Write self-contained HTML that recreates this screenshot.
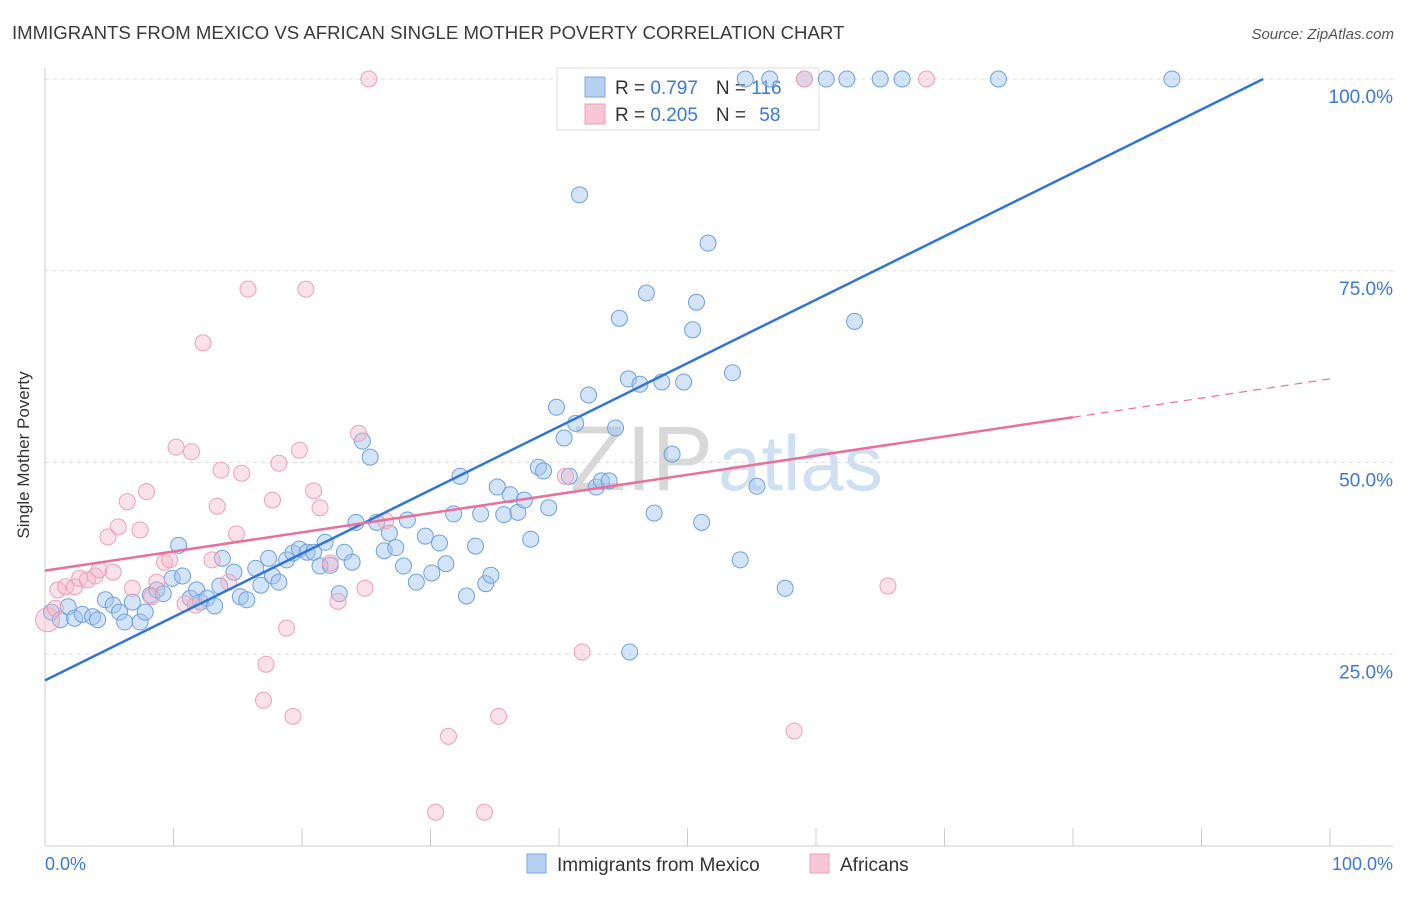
<!DOCTYPE html>
<html><head><meta charset="utf-8"><style>
body{margin:0;background:#fff;font-family:"Liberation Sans",sans-serif}
svg text{font-family:"Liberation Sans",sans-serif}
</style></head><body>
<svg id="c" width="1406" height="892" xmlns="http://www.w3.org/2000/svg">
<text x="12" y="39" font-size="18.6" fill="#3a3a3a">IMMIGRANTS FROM MEXICO VS AFRICAN SINGLE MOTHER POVERTY CORRELATION CHART</text>
<text x="1394" y="39" font-size="15" fill="#555" font-style="italic" text-anchor="end">Source: ZipAtlas.com</text>
<g><text x="570" y="490" font-size="92" fill="#d8d8d8" font-family="Liberation Serif">ZIP</text><text x="718" y="490" font-size="78" fill="#cfe0f3">atlas</text></g>
<g id="grid"></g><g id="axes"></g>
<g>
<rect x="557" y="68" width="262" height="62" fill="#fff" stroke="#ddd"/>
<rect x="585" y="77" width="20" height="20" fill="#b7d0f2" stroke="#7aa6dd"/>
<rect x="585" y="104" width="20" height="20" fill="#f8c6d5" stroke="#eea0b8"/>
<text x="615" y="94" font-size="19" fill="#333">R = <tspan fill="#3c78d8">0.797</tspan><tspan dx="18">N = </tspan><tspan fill="#3c78d8">116</tspan></text>
<text x="615" y="121" font-size="19" fill="#333">R = <tspan fill="#3c78d8">0.205</tspan><tspan dx="18">N = </tspan><tspan dx="8" fill="#3c78d8">58</tspan></text>
</g>
<g id="marks"></g><g id="lines"></g>
<text x="29" y="455" font-size="17" fill="#333" text-anchor="middle" transform="rotate(-90 29 455)">Single Mother Poverty</text>
<text x="45" y="870" font-size="18" fill="#3c78d8">0.0%</text>
<text x="1393" y="870" font-size="18" fill="#3c78d8" text-anchor="end">100.0%</text>
<g>
<rect x="527" y="854" width="19" height="19" fill="#b7d0f2" stroke="#7aa6dd"/>
<text x="557" y="871" font-size="19" fill="#333">Immigrants from Mexico</text>
<rect x="810" y="854" width="19" height="19" fill="#f8c6d5" stroke="#eea0b8"/>
<text x="840" y="871" font-size="19" fill="#333">Africans</text>
</g>
</svg>
<script>
const yTicks=[25,50,75,100];
const yTickLabels=["25.0%","50.0%","75.0%","100.0%"];
const xTicks=[0,10,20,30,40,50,60,70,80,90,100];
const blueX=[0.5,1.2,1.8,2.3,2.9,3.7,4.1,4.7,5.3,5.8,6.2,6.8,7.4,7.8,8.2,8.7,9.2,9.9,10.4,10.7,11.3,11.8,12.1,12.6,13.2,13.6,13.8,14.7,15.2,15.7,16.4,16.8,17.4,17.7,18.2,18.8,19.3,19.8,20.4,20.9,21.4,21.8,22.2,22.9,23.3,23.9,24.2,24.7,25.3,25.8,26.4,26.8,27.3,27.9,28.2,28.9,29.6,30.1,30.7,31.2,31.8,32.3,32.8,33.5,33.9,34.3,34.7,35.2,35.7,36.2,36.8,37.3,37.8,38.4,38.8,39.2,39.8,40.4,40.8,41.3,41.6,42.3,42.9,43.3,43.9,44.4,44.7,45.4,45.5,46.3,46.8,47.4,48.0,48.8,49.7,50.4,50.7,51.1,51.6,53.5,54.1,55.4,57.6,63.0,54.5,56.4,59.1,60.8,62.4,65.0,66.7,74.2,87.7];
const blueY=[30.5,29.5,31.2,29.7,30.2,29.9,29.5,32.1,31.4,30.5,29.2,31.8,29.2,30.5,32.7,33.4,32.9,34.9,39.2,35.2,32.3,33.4,31.8,32.3,31.3,33.9,37.5,35.7,32.5,32.1,36.2,34.0,37.5,35.2,34.4,37.3,38.2,38.7,38.3,38.3,36.5,39.6,36.6,32.9,38.3,37.0,42.2,52.8,50.7,42.2,38.5,40.8,38.9,36.5,42.5,34.4,40.4,35.6,39.5,36.8,43.3,48.2,32.6,39.1,43.3,34.2,35.3,46.8,43.2,45.8,43.5,45.1,40.0,49.4,48.9,44.1,57.2,53.2,48.2,55.1,84.9,58.8,46.8,47.6,47.6,54.5,68.8,60.9,25.3,60.2,72.1,43.4,60.5,51.1,60.5,67.3,70.9,42.2,78.6,61.7,37.3,46.9,33.6,68.4,100,100,100,100,100,100,100,100,100];
const pinkX=[0.2,0.8,1.0,1.6,2.3,2.7,3.3,3.9,4.2,4.9,5.3,5.7,6.4,6.8,7.4,7.9,8.3,8.7,9.3,9.7,10.2,10.9,11.4,11.7,12.3,13.0,13.4,13.7,14.3,14.9,15.3,15.8,17.2,17.0,17.7,18.2,18.8,19.3,19.8,20.3,20.9,21.4,22.2,22.8,24.4,24.9,25.2,26.5,30.4,31.4,34.2,35.3,40.5,41.8,58.3,59.1,65.6,68.6];
const pinkY=[29.5,31.0,33.4,33.8,33.8,34.9,34.7,35.2,36.0,40.3,35.7,41.6,44.9,33.6,41.2,46.2,32.5,34.4,37.0,37.3,52.0,31.6,51.4,31.4,65.6,37.3,44.3,49.0,34.4,40.7,48.6,72.6,23.7,19.0,45.1,49.9,28.4,16.9,51.6,72.6,46.3,44.1,36.9,31.9,53.8,33.6,100,42.4,4.4,14.3,4.4,16.9,48.2,25.3,15.0,100,33.9,100];
const blueFit=[21.6,0.827];
const pinkFit=[35.9,0.25];
const NS="http://www.w3.org/2000/svg";
const X=v=>45+v*12.85, Y=v=>846-v*7.67;
function mk(t,a,p){const e=document.createElementNS(NS,t);for(const k in a)e.setAttribute(k,a[k]);document.getElementById(p).appendChild(e);return e;}
yTicks.forEach((t,i)=>{
 const g=mk('line',{x1:45,x2:1393,y1:Y(t),y2:Y(t),stroke:'#ddd','stroke-dasharray':'4,4'},'grid');
 
 
 const tx=mk('text',{x:1393,y:Y(t)+24,'font-size':19,fill:'#3c78d8','text-anchor':'end'},'grid');
 tx.textContent=yTickLabels[i];
 
 
});
const ya=mk('line',{x1:45,x2:45,y1:68,y2:846,stroke:'#ccc'},'axes');


const xa=mk('line',{x1:45,x2:1393,y1:846,y2:846,stroke:'#ccc'},'axes');


xTicks.forEach(t=>{
 const l=mk('line',{x1:X(t),x2:X(t),y1:828,y2:846,stroke:'#ccc'},'axes');
 
 
});
blueX.forEach((x,i)=>{
 const c=mk('circle',{cx:X(x),cy:Y(blueY[i]),r:8,fill:'rgba(160,196,240,0.45)',stroke:'#6fa0dc','stroke-width':1},'marks');
 
 
});
pinkX.forEach((x,i)=>{
 const c=mk('circle',{cx:X(x),cy:Y(pinkY[i]),r:i==0?12:8,fill:'rgba(245,180,200,0.4)',stroke:'#eea0b8','stroke-width':1},'marks');
 
 
});
const bx2=(100-blueFit[0])/blueFit[1];
const bl=mk('line',{x1:X(0),y1:Y(blueFit[0]),x2:X(bx2),y2:Y(100),stroke:'#2f74d8','stroke-width':2.5},'lines');


const pl=mk('line',{x1:X(0),y1:Y(pinkFit[0]),x2:X(80),y2:Y(pinkFit[0]+pinkFit[1]*80),stroke:'#e8709a','stroke-width':2.5},'lines');


const pd=mk('line',{x1:X(80),y1:Y(pinkFit[0]+pinkFit[1]*80),x2:X(100),y2:Y(pinkFit[0]+pinkFit[1]*100),stroke:'#e8709a','stroke-width':1.2,'stroke-dasharray':'8,6'},'lines');


</script>
</body></html>
